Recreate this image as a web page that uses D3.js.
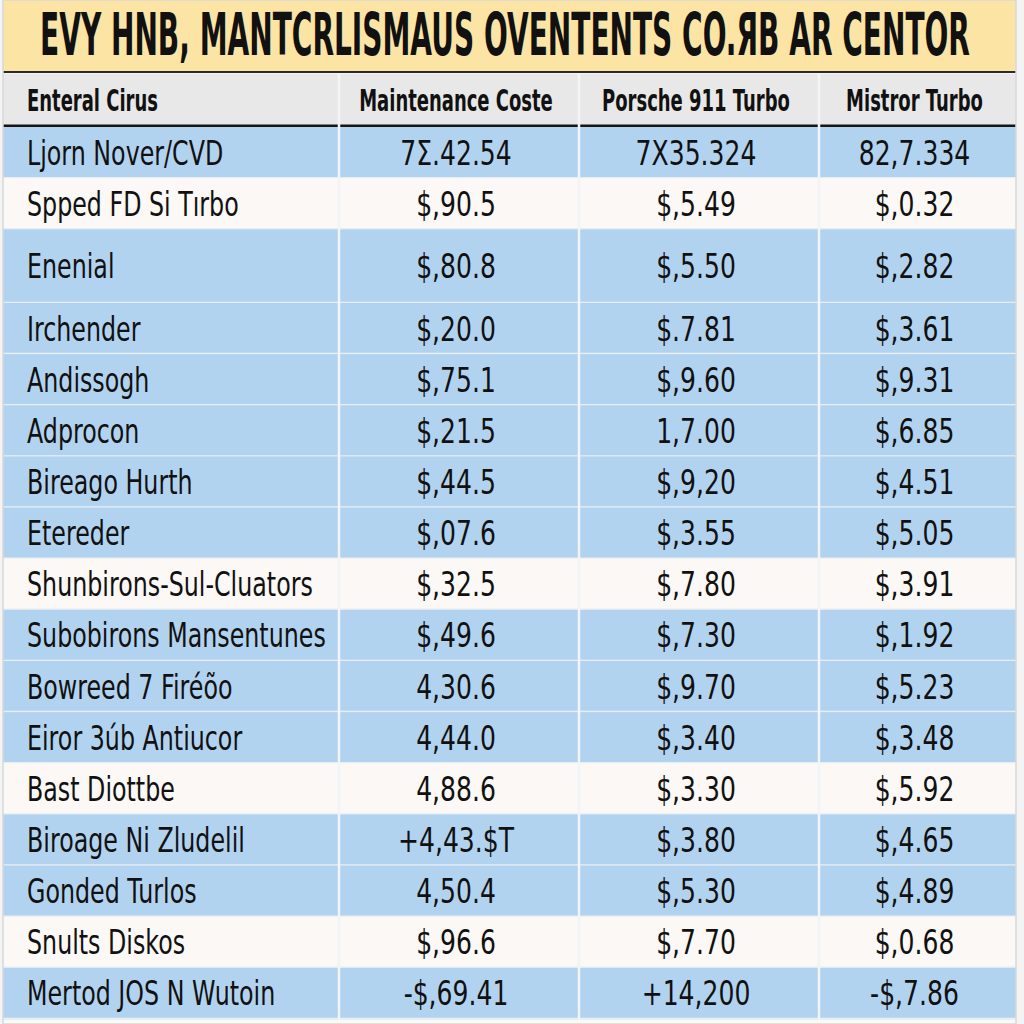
<!DOCTYPE html>
<meta charset="utf-8">
<head>
    <title>Maintenance table</title>
    <script src="https://cdn.jsdelivr.net/npm/d3@7"></script>
</head>
<style>
    body { margin: 0; background: #f4f4f4; }
    text { font-family: "DejaVu Sans", sans-serif; fill: #111; }
</style>
<svg></svg>
<script>
    var vWidth = 1024;
    var vHeight = 1024;

    var vTitle = "EVY HNB, MANTCRLISMAUS OVENTENTS CO.ЯB AR CENTOR";
    var vColumns = ["Enteral Cirus", "Maintenance Coste", "Porsche 911 Turbo", "Mistror Turbo"];
    var vRows = ["Ljorn Nover/CVD", "Spped FD Si Tırbo", "Enenial", "Irchender", "Andissogh", "Adprocon",
        "Bireago Hurth", "Etereder", "Shunbirons-Sul-Cluators", "Subobirons Mansentunes", "Bowreed 7 Firéõo",
        "Eiror 3úb Antiucor", "Bast Diottbe", "Biroage Ni Zludelil", "Gonded Turlos", "Snults Diskos",
        "Mertod JOS N Wutoin"];
    var vMaintenance = ["7Σ.42.54", "$,90.5", "$,80.8", "$,20.0", "$,75.1", "$,21.5", "$,44.5", "$,07.6",
        "$,32.5", "$,49.6", "4,30.6", "4,44.0", "4,88.6", "+4,43.$T", "4,50.4", "$,96.6", "-$,69.41"];
    var vPorsche = ["7X35.324", "$,5.49", "$,5.50", "$.7.81", "$,9.60", "1,7.00", "$,9,20", "$,3.55",
        "$,7.80", "$,7.30", "$,9.70", "$,3.40", "$,3.30", "$,3.80", "$,5.30", "$,7.70", "+14,200"];
    var vMistror = ["82,7.334", "$,0.32", "$,2.82", "$,3.61", "$,9.31", "$,6.85", "$,4.51", "$,5.05",
        "$,3.91", "$,1.92", "$,5.23", "$,3.48", "$,5.92", "$,4.65", "$,4.89", "$,0.68", "-$,7.86"];
    // which rows are shaded blue (0 = light row)
    var vShade = [1, 0, 1, 1, 1, 1, 1, 1, 0, 1, 1, 1, 0, 1, 1, 0, 1];
    // the third row is drawn taller in the original
    var vRowWeight = [1, 1, 1.44, 1, 1, 1, 1, 1, 1, 1, 1, 1, 1, 1, 1, 1, 1];

    var svg = d3.select('svg').attr('width', vWidth).attr('height', vHeight);

    var left = 3, right = 1016;
    var titleBottom = 72, headTop = 74, headBottom = 126, bodyTop = 127, bodyBottom = 1019;

    // column edges
    var vColEdges = [left, 339, 579, 819, right];
    var x = d3.scaleOrdinal().domain(d3.range(4)).range(vColEdges.slice(0, 4));
    var w = function (i) { return vColEdges[i + 1] - vColEdges[i]; };
    var tx = function (j) { return j === 0 ? 27 : x(j) + w(j) / 2 - 3; };
    var anchor = function (j) { return j === 0 ? 'start' : 'middle'; };

    // row edges from weights
    var cum = [0];
    vRowWeight.forEach(function (d, i) { cum.push(cum[i] + d); });
    var y = d3.scaleLinear().domain([0, cum[cum.length - 1]]).range([bodyTop, bodyBottom]);

    // title band
    svg.append('rect').attr('x', left).attr('y', 0).attr('width', right - left).attr('height', titleBottom)
        .attr('fill', '#fce4a4');
    svg.append('line').attr('x1', left).attr('x2', right).attr('y1', titleBottom).attr('y2', titleBottom)
        .attr('stroke', '#2a2a2a').attr('stroke-width', 2);
    var title = svg.append('text')
        .attr('text-anchor', 'middle')
        .style('font-size', '58px').style('font-weight', 'bold')
        .text(vTitle);
    // squeeze the title so it spans the band like the original condensed face
    var tw = title.node().getComputedTextLength();
    title.attr('transform', 'translate(505,55) scale(' + (930 / tw) + ',1)');

    // header row
    svg.append('rect').attr('x', left).attr('y', headTop).attr('width', right - left).attr('height', headBottom - headTop)
        .attr('fill', '#e8e8e8');
    svg.append('g').selectAll('text').data(vColumns).enter().append('text')
        .attr('transform', function (d, i) { return 'translate(' + tx(i) + ',111) scale(0.58,1)'; })
        .attr('text-anchor', function (d, i) { return anchor(i); })
        .style('font-size', '31px').style('font-weight', 'bold')
        .text(function (d) { return d; });
    svg.append('line').attr('x1', left).attr('x2', right).attr('y1', headBottom).attr('y2', headBottom)
        .attr('stroke', '#151515').attr('stroke-width', 3);

    // body
    var vTable = vRows.map(function (d, i) { return [d, vMaintenance[i], vPorsche[i], vMistror[i]]; });
    var rows = svg.append('g').selectAll('g').data(vTable).enter().append('g');
    rows.append('rect')
        .attr('x', left).attr('width', right - left)
        .attr('y', function (d, i) { return y(cum[i]); })
        .attr('height', function (d, i) { return y(cum[i + 1]) - y(cum[i]); })
        .attr('fill', function (d, i) { return vShade[i] ? '#b2d3f0' : '#fbf8f5'; });
    rows.append('line')
        .attr('x1', left).attr('x2', right)
        .attr('y1', function (d, i) { return y(cum[i + 1]); })
        .attr('y2', function (d, i) { return y(cum[i + 1]); })
        .attr('stroke', '#e9eef3').attr('stroke-width', 2.5);
    rows.selectAll('text').data(function (d, i) { return d.map(function (v) { return { v: v, r: i }; }); })
        .enter().append('text')
        .attr('transform', function (d, j) {
            var cy = (y(cum[d.r]) + y(cum[d.r + 1])) / 2 + 12;
            return 'translate(' + tx(j) + ',' + cy + ') scale(' + (j === 0 ? 0.72 : 0.76) + ',1)';
        })
        .attr('text-anchor', function (d, j) { return anchor(j); })
        .style('font-size', '33px')
        .text(function (d) { return d.v; });

    // column separators
    svg.append('g').selectAll('line').data(vColEdges.slice(1, 4)).enter().append('line')
        .attr('x1', function (d) { return d; }).attr('x2', function (d) { return d; })
        .attr('y1', headTop).attr('y2', vHeight)
        .attr('stroke', '#f2f4f7').attr('stroke-width', 2.5);

    // bottom strip and outer edges
    svg.append('rect').attr('x', left).attr('y', bodyBottom + 1).attr('width', right - left).attr('height', vHeight - bodyBottom)
        .attr('fill', '#fbf8f5');
    svg.append('rect').attr('x', left).attr('y', 0).attr('width', right - left).attr('height', vHeight)
        .attr('fill', 'none').attr('stroke', '#d8d8d8').attr('stroke-width', 1.5);
</script>
